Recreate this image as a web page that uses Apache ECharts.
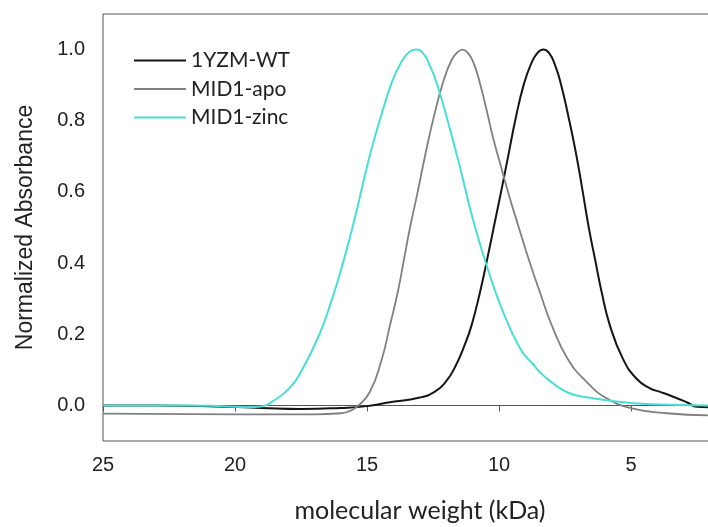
<!DOCTYPE html>
<html>
<head>
<meta charset="utf-8">
<script src="https://cdn.jsdelivr.net/npm/echarts@6/dist/echarts.min.js"></script>
<style>
  html, body { margin: 0; padding: 0; background: #fff; }
</style>
</head>
<body>
<div id="main" style="width: 708px;height:527px;"></div>
<script type="text/javascript">
    // series names (legend order)
    var seriesNames = ['1YZM-WT', 'MID1-apo', 'MID1-zinc'];

    // [molecular weight (kDa), normalized absorbance]
    var wtData = [
        [25, 0.0], [23, 0.0], [21, -0.002], [19, -0.007], [17.5, -0.01], [16, -0.007],
        [15, -0.002], [14.2, 0.008], [13, 0.022], [12.4, 0.04], [12.0, 0.068],
        [11.65, 0.11], [11.3, 0.17], [11.04, 0.225], [10.72, 0.318], [10.45, 0.41], [10.2, 0.5],
        [9.95, 0.59], [9.68, 0.69], [9.36, 0.81], [9.05, 0.905], [8.8, 0.957],
        [8.55, 0.99], [8.32, 1.0], [8.1, 0.99], [7.87, 0.955], [7.66, 0.905],
        [7.38, 0.815], [7.1, 0.715], [6.85, 0.61], [6.6, 0.5], [6.36, 0.41],
        [6.11, 0.318], [5.8, 0.225], [5.3, 0.13], [4.79, 0.075], [4.28, 0.048],
        [3.9, 0.038], [3.52, 0.028], [2.89, 0.009], [2.5, -0.004], [2.0, -0.005]
    ];
    var apoData = [
        [25, -0.023], [20, -0.025], [17, -0.025], [16, -0.022], [15.7, -0.017],
        [15.4, -0.005], [14.9, 0.037], [14.44, 0.13], [14.13, 0.225], [13.83, 0.32],
        [13.6, 0.41], [13.37, 0.5], [13.08, 0.6], [12.79, 0.705], [12.44, 0.82],
        [12.09, 0.915], [11.8, 0.97], [11.58, 0.992], [11.38, 1.0], [11.17, 0.99],
        [10.95, 0.96], [10.72, 0.905], [10.47, 0.83], [10.2, 0.745], [9.92, 0.67],
        [9.6, 0.585], [9.25, 0.5], [8.85, 0.405], [8.45, 0.318], [8.0, 0.225],
        [7.39, 0.13], [6.68, 0.066], [5.92, 0.02], [4.92, -0.009], [3.64, -0.022], [2.0, -0.028]
    ];
    var zincData = [
        [25, 0.0], [22, 0.0], [20.5, -0.002], [19.5, -0.005], [19, -0.003],
        [18.56, 0.012], [17.92, 0.05], [17.46, 0.1], [16.8, 0.2], [16.32, 0.3],
        [15.95, 0.39], [15.62, 0.48], [15.32, 0.57], [15.02, 0.665], [14.72, 0.75],
        [14.42, 0.825], [14.07, 0.906], [13.7, 0.965], [13.4, 0.993], [13.14, 1.0],
        [12.88, 0.99], [12.62, 0.955], [12.36, 0.906], [11.98, 0.81], [11.48, 0.67],
        [11.12, 0.56], [10.84, 0.484], [10.47, 0.394], [9.9, 0.273], [9.2, 0.16],
        [8.7, 0.115], [8.33, 0.085], [7.42, 0.037], [6.44, 0.02], [4.92, 0.006],
        [3.5, 0.002], [2.0, 0.0]
    ];

    // tick labels shown on the y axis
    var yTicks = [0, 0.2, 0.4, 0.6, 0.8, 1.0];

    var colors = ['#151515', '#808080', '#48dfd6'];

    var myChart = echarts.init(document.getElementById('main'));

    var axisColor = '#555';
    var option = {
        animation: false,
        color: colors,
        grid: {
            left: 103,
            top: 14,
            right: -55,   // the x axis runs to 0, past the right edge of the picture
            bottom: 86,
            outerBoundsMode: 'none',
            show: true,
            borderColor: axisColor,
            borderWidth: 1
        },
        legend: {
            orient: 'vertical',
            left: 129,
            top: 45,
            icon: 'rect',
            itemWidth: 52,
            itemHeight: 2,
            itemGap: 7.5,
            textStyle: {
                fontFamily: 'Lato',
                fontSize: 21,
                color: '#222',
                lineHeight: 20
            },
            data: seriesNames
        },
        xAxis: {
            type: 'value',
            inverse: true,
            min: 0,
            max: 25,
            interval: 5,
            name: 'molecular weight (kDa)',
            nameLocation: 'middle',
            nameGap: 57,
            nameTextStyle: {
                fontFamily: 'Lato',
                fontSize: 25,
                color: '#222',
                padding: [0, 26, 0, 0]
            },
            axisLine: { show: true, lineStyle: { color: axisColor, width: 1 } },
            axisTick: { show: true, inside: false, length: 6, lineStyle: { color: axisColor } },
            axisLabel: {
                fontFamily: 'Liberation Sans',
                fontSize: 20,
                color: '#222',
                margin: 14
            },
            splitLine: { show: false }
        },
        yAxis: {
            type: 'value',
            min: -0.1,
            max: 1.1,
            name: 'Normalized Absorbance',
            nameLocation: 'middle',
            nameGap: 66,
            nameTextStyle: {
                fontFamily: 'Liberation Sans',
                fontSize: 23,
                color: '#222'
            },
            axisLine: { show: true, lineStyle: { color: axisColor, width: 1 } },
            axisTick: {
                show: true, inside: false, length: 6,
                customValues: yTicks,
                lineStyle: { color: axisColor }
            },
            axisLabel: {
                fontFamily: 'Liberation Sans',
                fontSize: 20,
                color: '#222',
                margin: 18,
                customValues: yTicks,
                formatter: function (v) { return v.toFixed(1); }
            },
            splitLine: { show: false }
        },
        series: [
            {
                name: seriesNames[0],
                type: 'line',
                data: wtData,
                smooth: true,
                showSymbol: false,
                lineStyle: { width: 2, color: colors[0] }
            },
            {
                name: seriesNames[1],
                type: 'line',
                data: apoData,
                smooth: true,
                showSymbol: false,
                lineStyle: { width: 1.8, color: colors[1] }
            },
            {
                name: seriesNames[2],
                type: 'line',
                data: zincData,
                smooth: true,
                showSymbol: false,
                lineStyle: { width: 2, color: colors[2] }
            }
        ]
    };
    myChart.setOption(option);
</script>
</body>
</html>
